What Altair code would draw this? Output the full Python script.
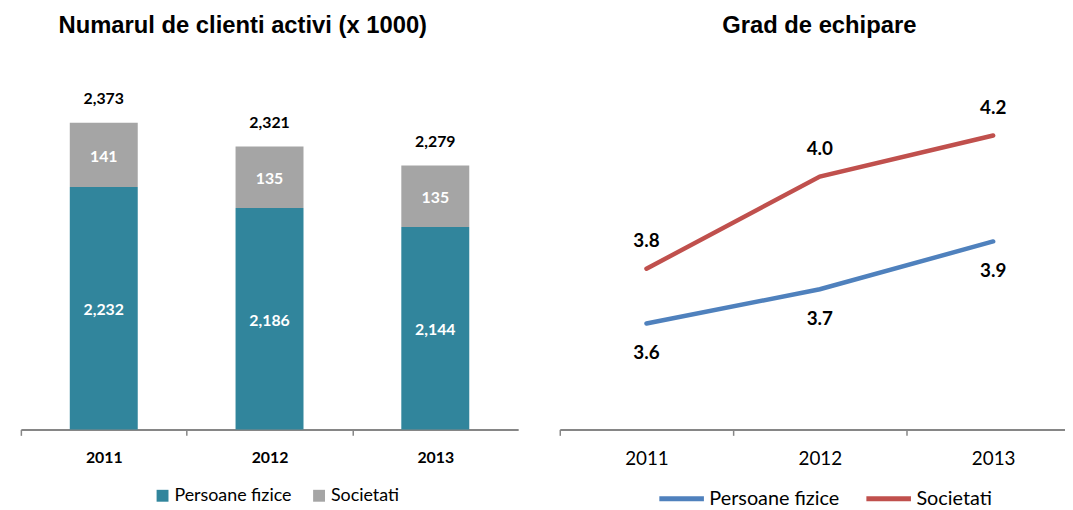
import altair as alt
import pandas as pd

# ---------------- data ----------------
year_labels = ["2011", "2012", "2013"]
years = [2011, 2012, 2013]
series = ["Persoane fizice", "Societati"]

clienti_pf = [2232, 2186, 2144]
clienti_soc = [141, 135, 135]
clienti_total = [2373, 2321, 2279]

echip_pf = [3.62, 3.72, 3.86]
echip_soc = [3.78, 4.05, 4.17]

TEAL = "#31859C"
GREY = "#A5A5A5"
BLUE = "#4F81BD"
RED = "#C0504D"
AXIS_C = "#868686"
BAR_BASE = 1700

bar_long = pd.DataFrame({
    "year": year_labels * 2,
    "serie": [series[0]] * 3 + [series[1]] * 3,
    "value": clienti_pf + clienti_soc,
    "ord": [0] * 3 + [1] * 3,
})
bar_wide = pd.DataFrame({
    "year": year_labels, "pf": clienti_pf, "soc": clienti_soc, "total": clienti_total,
})

line_df = pd.DataFrame({
    "year": years * 2,
    "serie": [series[0]] * 3 + [series[1]] * 3,
    "value": echip_pf + echip_soc,
})

# ---------------- left: stacked bars ----------------
LW = 502
step_l = LW / 3.0
xb = alt.X("year:N", sort=year_labels,
           scale=alt.Scale(paddingInner=0.59, paddingOuter=0.295),
           axis=alt.Axis(title=None, labelAngle=0, tickOffset=-step_l / 2, labelOffset=step_l / 2,
                         labelFontSize=16, labelFontWeight="bold", labelFont="Lato",
                         labelColor="black", labelPadding=14, tickSize=6, grid=False,
                         domainColor=AXIS_C, domainWidth=2, tickColor=AXIS_C, tickWidth=1.5))
yscale_b = alt.Scale(domain=[BAR_BASE, 2450], nice=False, zero=False)

bars = alt.Chart(bar_long).mark_bar(clip=True).encode(
    x=xb,
    y=alt.Y("value:Q", stack="zero", scale=yscale_b, axis=None),
    color=alt.Color("serie:N", scale=alt.Scale(domain=series, range=[TEAL, GREY]),
                    legend=alt.Legend(title=None, orient="none", direction="horizontal",
                                      legendX=134, legendY=403, symbolType="square",
                                      symbolSize=144, symbolStrokeWidth=0, labelFont="Lato",
                                      labelFontSize=18, labelColor="black", labelOffset=3,
                                      columnPadding=18, padding=0)),
    order=alt.Order("ord:Q", sort="ascending"),
)

lbl_pf = alt.Chart(bar_wide).transform_calculate(
    ypos=f"({BAR_BASE} + datum.pf) / 2"
).mark_text(font="Lato", fontSize=16, fontWeight="bold", color="white",
            baseline="alphabetic", dy=7).encode(
    x=xb, y=alt.Y("ypos:Q", scale=yscale_b, axis=None), text=alt.Text("pf:Q", format=","))

lbl_soc = alt.Chart(bar_wide).transform_calculate(
    ypos="datum.pf + datum.soc / 2"
).mark_text(font="Lato", fontSize=16, fontWeight="bold", color="white",
            baseline="alphabetic", dy=7).encode(
    x=xb, y=alt.Y("ypos:Q", scale=yscale_b, axis=None), text=alt.Text("soc:Q", format=","))

lbl_tot = alt.Chart(bar_wide).mark_text(font="Lato", fontSize=16, fontWeight="bold",
                                        color="black", baseline="alphabetic", dy=-19).encode(
    x=xb, y=alt.Y("total:Q", scale=yscale_b, axis=None), text=alt.Text("total:Q", format=","))

left = alt.layer(bars, lbl_pf, lbl_soc, lbl_tot).properties(
    width=LW, height=345,
    title=alt.Title("Numarul de clienti activi (x 1000)", font="Liberation Sans", fontSize=24,
                    fontWeight="bold", color="black", anchor="middle", dx=-27,
                    baseline="bottom", offset=26),
)

# ---------------- right: lines ----------------
RW = 510
step_r = 175.0
xl = alt.X("year:Q",
           scale=alt.Scale(domain=[2010.5, 2010.5 + RW / step_r], nice=False, zero=False),
           axis=alt.Axis(title=None, values=years, format="d", tickOffset=-step_r / 2,
                         labelOffset=step_r / 2, labelFlush=False, labelFontSize=19,
                         labelFont="Lato", labelColor="black", labelPadding=14, tickSize=6,
                         grid=False, domainColor=AXIS_C, domainWidth=2, tickColor=AXIS_C,
                         tickWidth=1.5))
yscale_l = alt.Scale(domain=[3.31, 4.31], nice=False, zero=False)

lines = alt.Chart(line_df).mark_line(strokeWidth=4.5, strokeCap="round").encode(
    x=xl,
    y=alt.Y("value:Q", scale=yscale_l, axis=None),
    color=alt.Color("serie:N", scale=alt.Scale(domain=series, range=[BLUE, RED]),
                    legend=alt.Legend(title=None, orient="none", direction="horizontal",
                                      legendX=98, legendY=390, symbolType="stroke",
                                      symbolSize=2025, symbolStrokeWidth=5, labelFont="Lato",
                                      labelFontSize=20, labelColor="black", labelOffset=3,
                                      columnPadding=16, padding=0)),
)

lbl_l_pf = alt.Chart(line_df).transform_filter(f"datum.serie == '{series[0]}'").mark_text(
    font="Lato", fontSize=19, fontWeight="bold", color="black", baseline="alphabetic", dy=36
).encode(x=xl, y=alt.Y("value:Q", scale=yscale_l, axis=None),
         text=alt.Text("value:Q", format=".1f"))

lbl_l_soc = alt.Chart(line_df).transform_filter(f"datum.serie == '{series[1]}'").mark_text(
    font="Lato", fontSize=19, fontWeight="bold", color="black", baseline="alphabetic", dy=-22
).encode(x=xl, y=alt.Y("value:Q", scale=yscale_l, axis=None),
         text=alt.Text("value:Q", format=".1f"))

right = alt.layer(lines, lbl_l_pf, lbl_l_soc).properties(
    width=RW, height=345,
    title=alt.Title("Grad de echipare", font="Liberation Sans", fontSize=24,
                    fontWeight="bold", color="black", anchor="middle", dx=7,
                    baseline="bottom", offset=26),
)

chart = alt.hconcat(left, right, spacing=41).resolve_scale(
    x="independent", y="independent", color="independent"
).resolve_legend(color="independent").properties(
    padding={"left": 12, "top": 4, "right": 0, "bottom": 0}
).configure_view(strokeWidth=0, stroke="transparent")

chart.save("out.html", embed_options={"renderer": "svg", "actions": False})
